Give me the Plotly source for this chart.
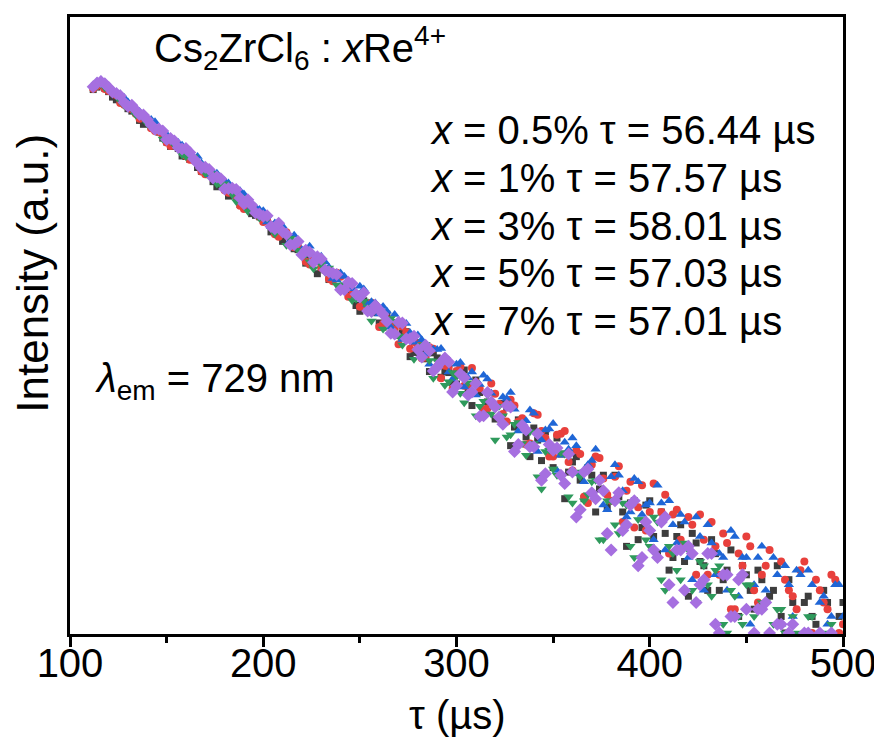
#!/usr/bin/env python
# coding: utf-8

# Decay curves of Cs2ZrCl6 : xRe4+ (emission at 729 nm), log intensity vs. time

import plotly.graph_objects as go

# ## 1. Data (counts per 2 us bin)
tau_us = [112, 114, 116, 118, 120, 122, 124, 126, 128, 130,
          132, 134, 136, 138, 140, 142, 144, 146, 148, 150,
          152, 154, 156, 158, 160, 162, 164, 166, 168, 170,
          172, 174, 176, 178, 180, 182, 184, 186, 188, 190,
          192, 194, 196, 198, 200, 202, 204, 206, 208, 210,
          212, 214, 216, 218, 220, 222, 224, 226, 228, 230,
          232, 234, 236, 238, 240, 242, 244, 246, 248, 250,
          252, 254, 256, 258, 260, 262, 264, 266, 268, 270,
          272, 274, 276, 278, 280, 282, 284, 286, 288, 290,
          292, 294, 296, 298, 300, 302, 304, 306, 308, 310,
          312, 314, 316, 318, 320, 322, 324, 326, 328, 330,
          332, 334, 336, 338, 340, 342, 344, 346, 348, 350,
          352, 354, 356, 358, 360, 362, 364, 366, 368, 370,
          372, 374, 376, 378, 380, 382, 384, 386, 388, 390,
          392, 394, 396, 398, 400, 402, 404, 406, 408, 410,
          412, 414, 416, 418, 420, 422, 424, 426, 428, 430,
          432, 434, 436, 438, 440, 442, 444, 446, 448, 450,
          452, 454, 456, 458, 460, 462, 464, 466, 468, 470,
          472, 474, 476, 478, 480, 482, 484, 486, 488, 490,
          492, 494, 496, 498, 500]

counts_x05 = [4020, 4130, 4200, 4080, 3930, 3700, 3591, 3560, 3458, 3255,
              3169, 3120, 2860, 2740, 2772, 2660, 2608, 2513, 2352, 2255,
              2148, 2210, 2097, 1932, 1921, 1860, 1860, 1701, 1631, 1686,
              1573, 1455, 1375, 1416, 1386, 1241, 1260, 1238, 1130, 1171,
              1140, 1022, 1003, 988, 972, 974, 836, 835, 831, 753,
              813, 768, 694, 687, 660, 592, 646, 618, 527, 565,
              548, 494, 531, 518, 443, 444, 439, 431, 371, 348,
              391, 382, 350, 343, 306, 292, 337, 306, 278, 267,
              274, 278, 211, 221, 246, 230, 206, 179, 220, 208,
              168, 179, 177, 158, 156, 174, 182, 148, 123, 163,
              142, 115, 128, 127, 106, 107, 126, 120, 79, 97,
              105, 103, 87, 70, 96, 84, 67, 92, 78, 62,
              86, 72, 44, 59, 66, 70, 54, 44, 62, 57,
              38, 49, 57, 40, 43, 57, 45, 38, 26, 42,
              43, 28, 32, 41, 43, 29, 24, 38, 30, 20,
              23, 29, 33, 22, 15, 30, 27, 22, 21, 16,
              28, 24, 16, 18, 20, 25, 12, 12, 21, 19,
              16, 13, 20, 18, 8, 15, 16, 21, 12, 10,
              18, 14, 9, 7, 14, 15, 12, 11, 7, 16,
              14, 8, 9, 12, 14]

counts_x1 = [4060, 4180, 4250, 4050, 3960, 3884, 3772, 3466, 3404, 3328,
             3233, 3082, 2911, 2939, 2876, 2621, 2548, 2522, 2417, 2239,
             2154, 2174, 2133, 2095, 1933, 1854, 1837, 1786, 1629, 1578,
             1636, 1521, 1463, 1471, 1325, 1288, 1311, 1244, 1116, 1076,
             1119, 1098, 1068, 987, 932, 947, 902, 815, 793, 837,
             833, 735, 706, 712, 673, 602, 584, 631, 604, 562,
             548, 497, 485, 533, 509, 449, 409, 441, 422, 366,
             376, 374, 382, 373, 293, 303, 320, 301, 286, 242,
             294, 276, 230, 248, 240, 207, 209, 234, 230, 189,
             166, 191, 188, 148, 180, 189, 153, 153, 186, 159,
             149, 118, 119, 157, 140, 125, 112, 103, 131, 123,
             103, 107, 80, 81, 113, 111, 93, 86, 70, 70,
             89, 90, 93, 66, 60, 75, 72, 45, 42, 64,
             70, 69, 55, 46, 43, 56, 63, 34, 48, 53,
             32, 40, 51, 31, 38, 52, 23, 38, 46, 24,
             37, 39, 28, 26, 36, 33, 19, 37, 28, 19,
             34, 26, 19, 30, 27, 13, 13, 24, 21, 29,
             26, 16, 14, 19, 21, 25, 8, 11, 22, 18,
             16, 15, 13, 20, 22, 7, 10, 18, 16, 14,
             13, 19, 18, 10, 11]

counts_x3 = [4230, 4380, 4470, 4340, 4170, 3965, 3847, 3825, 3682, 3503,
             3283, 3160, 3158, 3063, 2873, 2889, 2817, 2606, 2543, 2454,
             2298, 2231, 2243, 2173, 2121, 1968, 1881, 1920, 1790, 1685,
             1572, 1614, 1595, 1433, 1468, 1432, 1326, 1293, 1316, 1271,
             1128, 1101, 1100, 1071, 1055, 933, 887, 923, 906, 891,
             815, 761, 806, 765, 686, 693, 713, 596, 608, 638,
             600, 566, 500, 491, 531, 511, 471, 446, 412, 459,
             445, 374, 387, 381, 338, 367, 348, 292, 336, 304,
             255, 304, 275, 247, 268, 254, 217, 194, 229, 228,
             231, 198, 178, 165, 194, 198, 151, 167, 178, 138,
             155, 172, 165, 141, 121, 110, 135, 133, 142, 118,
             93, 97, 104, 117, 113, 74, 84, 94, 95, 101,
             60, 71, 82, 76, 86, 79, 58, 53, 64, 67,
             76, 55, 41, 39, 56, 64, 57, 48, 36, 38,
             55, 53, 37, 41, 42, 28, 51, 42, 25, 43,
             33, 27, 37, 34, 23, 18, 36, 29, 16, 33,
             27, 19, 24, 23, 16, 31, 29, 15, 23, 23,
             11, 17, 23, 26, 16, 9, 23, 19, 11, 21,
             17, 12, 20, 19, 8, 20, 17, 9, 14, 15,
             11, 12, 17, 17, 12]

counts_x5 = [4080, 4200, 4280, 4096, 4000, 3928, 3767, 3532, 3371, 3359,
             3243, 3040, 3085, 2932, 2751, 2680, 2599, 2590, 2328, 2288,
             2310, 2177, 2119, 1957, 1913, 1939, 1911, 1776, 1688, 1594,
             1607, 1587, 1416, 1404, 1421, 1348, 1261, 1170, 1222, 1184,
             1051, 1080, 1042, 974, 1010, 969, 870, 816, 854, 818,
             721, 779, 756, 683, 678, 652, 601, 556, 631, 584,
             537, 561, 526, 465, 440, 468, 469, 392, 399, 420,
             390, 365, 313, 356, 349, 286, 307, 321, 312, 265,
             240, 263, 258, 205, 222, 240, 242, 202, 166, 201,
             198, 154, 160, 177, 169, 141, 127, 158, 142, 110,
             122, 129, 138, 112, 84, 122, 110, 87, 89, 100,
             102, 81, 71, 92, 81, 56, 49, 74, 75, 61,
             57, 73, 72, 45, 42, 59, 56, 43, 46, 53,
             54, 28, 28, 43, 43, 33, 30, 42, 41, 26,
             23, 35, 35, 28, 26, 36, 34, 18, 16, 26,
             24, 20, 18, 27, 25, 16, 14, 22, 21, 17,
             15, 20, 21, 11, 10, 16, 15, 12, 11, 17,
             17, 12, 9, 14, 14, 8, 11, 13, 13, 10,
             7, 12, 10, 7, 8, 12, 12, 9, 8, 7,
             10, 11, 5, 7, 8]

counts_x7 = [4150, 4320, 4390, 4290, 4110, 3913, 3850, 3753, 3487, 3345,
             3384, 3205, 3056, 3035, 2882, 2721, 2594, 2598, 2547, 2314,
             2343, 2281, 2122, 2084, 2100, 2010, 1869, 1781, 1692, 1707,
             1662, 1517, 1530, 1503, 1342, 1348, 1353, 1333, 1215, 1141,
             1193, 1123, 1033, 1018, 994, 1000, 886, 866, 919, 837,
             815, 725, 727, 751, 650, 683, 667, 598, 635, 620,
             549, 538, 529, 523, 441, 442, 479, 473, 420, 408,
             427, 349, 347, 371, 354, 337, 311, 273, 271, 308,
             306, 257, 257, 264, 228, 210, 239, 225, 180, 188,
             199, 208, 199, 143, 153, 174, 167, 138, 143, 157,
             109, 110, 142, 128, 121, 108, 100, 123, 121, 74,
             80, 99, 94, 78, 78, 90, 54, 58, 80, 75,
             77, 57, 52, 72, 59, 36, 39, 59, 61, 47,
             44, 54, 48, 30, 25, 43, 47, 31, 33, 41,
             43, 21, 23, 34, 31, 25, 23, 34, 36, 17,
             14, 25, 25, 16, 26, 24, 14, 17, 18, 24,
             24, 11, 10, 19, 19, 12, 12, 18, 19, 13,
             9, 10, 13, 13, 14, 10, 7, 11, 11, 9,
             10, 11, 8, 9, 10, 10, 9, 6, 10, 8,
             7, 10, 6, 6, 8]

doping = ["0.5%", "1%", "3%", "5%", "7%"]
lifetimes_us = [56.44, 57.57, 58.01, 57.03, 57.01]
x_ticks = [100, 200, 300, 400, 500]
x_minor_ticks = [150, 250, 350, 450]

# ## 2. Style
FONT = "Liberation Sans, Arial, sans-serif"
COLORS = ["#3d3d3d", "#e8403c", "#1f66d6", "#2f9a5c", "#a66fe0"]
SYMBOLS = ["square", "circle", "triangle-up", "triangle-down", "diamond"]
SIZES = [7, 8, 9, 9, 10]

# plot area in screen pixels (the page body adds an 8 px offset)
PLOT_L, PLOT_R, PLOT_T, PLOT_B = 70, 843, 14, 634
BODY = 8


def px_to_paper(px, py):
    return (px - PLOT_L) / (PLOT_R - PLOT_L), (PLOT_B - py) / (PLOT_B - PLOT_T)


all_counts = [counts_x05, counts_x1, counts_x3, counts_x5, counts_x7]

fig = go.Figure()
for i, counts in enumerate(all_counts):
    fig.add_trace(go.Scatter(
        x=tau_us, y=counts, mode="markers",
        name="x = " + doping[i],
        marker=dict(symbol=SYMBOLS[i], size=SIZES[i], color=COLORS[i], line=dict(width=0)),
        showlegend=False))

# figure shrunk by the body offset so that it fits the 882x749 window
W, H = 882 - BODY, 749 - BODY
fig.update_layout(
    width=W, height=H,
    margin=dict(l=PLOT_L - BODY, r=882 - PLOT_R, t=PLOT_T - BODY, b=749 - PLOT_B),
    plot_bgcolor="white", paper_bgcolor="white",
    font=dict(family=FONT, color="black", size=40))

fig.update_xaxes(
    range=[100, 500], tickvals=x_ticks, ticktext=[str(t) for t in x_ticks],
    ticks="outside", ticklen=10, tickwidth=3, tickcolor="black",
    tickfont=dict(family=FONT, size=40, color="black"),
    ticklabelstandoff=-18, ticklabeloverflow="allow",
    showline=True, linewidth=3, linecolor="black", mirror=True,
    showgrid=False, zeroline=False,
    minor=dict(tickvals=x_minor_ticks, ticks="outside", ticklen=6, tickwidth=3, tickcolor="black"))

fig.update_yaxes(
    type="log", range=[0.995, 3.952],
    showticklabels=False, ticks="",
    showline=True, linewidth=3, linecolor="black", mirror=True,
    showgrid=False, zeroline=False)

# ## 3. Text
annotations = []

x0, y0 = px_to_paper(152, 45)
annotations.append(dict(x=x0, y=y0, xanchor="left", yanchor="middle",
                        text="Cs<sub>2</sub>ZrCl<sub>6</sub> : <i>x</i>Re<sup>4+</sup>"))

line_y = [128, 176, 224, 271, 319]
for i in range(len(doping)):
    lx, ly = px_to_paper(428, line_y[i])
    annotations.append(dict(x=lx, y=ly, xanchor="left", yanchor="middle",
                            text="<i>x</i> = %s \u03c4 = %.2f \u00b5s" % (doping[i], lifetimes_us[i])))

lx, ly = px_to_paper(93, 380)
annotations.append(dict(x=lx, y=ly, xanchor="left", yanchor="middle",
                        text="<i>\u03bb</i><sub>em</sub> = 729 nm"))

# axis titles
tx, ty = px_to_paper(457, 715)
annotations.append(dict(x=tx, y=ty, xanchor="center", yanchor="middle", text="\u03c4 (\u00b5s)"))
tx, ty = px_to_paper(33, 272)
annotations.append(dict(x=tx, y=ty, xanchor="center", yanchor="middle", textangle=-90,
                        text="Intensity (a.u.)", font=dict(size=44)))

for a in annotations:
    a.update(xref="paper", yref="paper", showarrow=False)
    a.setdefault("font", dict(size=40))
    a["font"].update(family=FONT, color="black")

fig.update_layout(annotations=annotations)

fig.write_html("out.html")
print("out.html geschrieben")
